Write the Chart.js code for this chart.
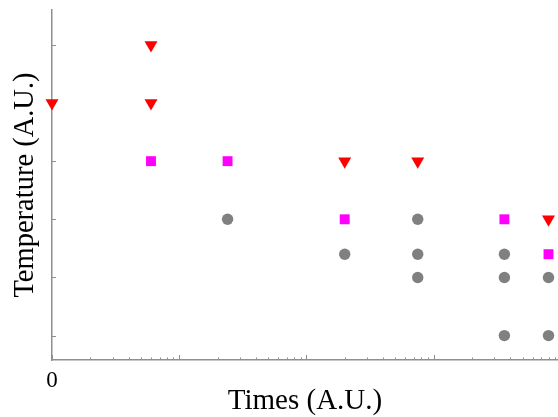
<!DOCTYPE html>
<html lang="en">
<head>
  <meta charset="UTF-8">
  <title>Temperature vs Times</title>
  <script src="https://cdn.jsdelivr.net/npm/chart.js"></script>
  <style>
    html, body { margin: 0; padding: 0; background: #fff; overflow: hidden; }
    canvas { display: block; }
  </style>
</head>
<body>

<canvas id="myChart" width="558" height="417"></canvas>

<script>
  // 読み取った値 (x は対数軸)
  const triangleX = [1, 6, 6, 200, 750, 8000];
  const triangleY = [5, 6, 5, 4, 4, 3];

  const squareX = [6, 24, 200, 3600, 8000];
  const squareY = [4, 4, 3, 3, 2.4];

  const circleX = [24, 200, 750, 750, 750, 3600, 3600, 3600, 8000, 8000];
  const circleY = [3, 2.4, 3, 2.4, 2, 2.4, 2, 1, 2, 1];

  const xLabels = ['0'];   // 最初の目盛りだけラベルあり

  const axisColor = '#8f8f8f';
  const serif = "'Liberation Serif', 'Times New Roman', serif";

  function toPoints(xs, ys) {
    return xs.map((x, i) => ({x: x, y: ys[i]}));
  }

  // 内向きの目盛り線
  const tickMarks = {
    id: 'tickMarks',
    beforeDatasetsDraw(chart) {
      const {ctx, chartArea, scales: {x, y}} = chart;
      ctx.save();
      ctx.strokeStyle = axisColor;
      ctx.lineWidth = 1;
      ctx.beginPath();
      x.ticks.forEach(t => {
        const exp = Math.floor(Math.log10(t.value) + 1e-9);
        const sig = t.value / Math.pow(10, exp);
        if (Math.abs(sig - Math.round(sig)) > 1e-6) return;
        const px = Math.round(x.getPixelForValue(t.value)) + 0.5;
        const len = Math.round(sig) === 1 ? 5 : 2.5;
        ctx.moveTo(px, chartArea.bottom);
        ctx.lineTo(px, chartArea.bottom - len);
      });
      y.ticks.forEach(t => {
        const py = Math.round(y.getPixelForValue(t.value)) + 0.5;
        ctx.moveTo(chartArea.left, py);
        ctx.lineTo(chartArea.left + 4, py);
      });
      ctx.stroke();
      ctx.restore();
    }
  };

  const ctx = document.getElementById('myChart').getContext('2d');
  new Chart(ctx, {
    type: 'scatter',
    data: {
      datasets: [
        {
          data: toPoints(triangleX, triangleY),
          pointStyle: 'triangle',
          rotation: 180,
          pointRadius: 7.5,
          backgroundColor: '#ff0000',
          borderWidth: 0,
          clip: false
        },
        {
          data: toPoints(squareX, squareY),
          pointStyle: 'rect',
          pointRadius: 7,
          backgroundColor: '#ff00ff',
          borderWidth: 0,
          clip: false
        },
        {
          data: toPoints(circleX, circleY),
          pointStyle: 'circle',
          pointRadius: 5.7,
          backgroundColor: '#808080',
          borderWidth: 0,
          clip: false
        }
      ]
    },
    plugins: [tickMarks],
    options: {
      responsive: false,
      animation: false,
      events: [],
      layout: {
        autoPadding: false,
        padding: { top: 10, right: 0, left: 0, bottom: 0 }
      },
      plugins: {
        legend: { display: false },
        tooltip: { enabled: false }
      },
      scales: {
        x: {
          type: 'logarithmic',
          position: 'bottom',
          min: 1,
          max: 9500,
          grid: { display: false, drawTicks: false },
          border: { display: true, color: axisColor, width: 1.5 },
          ticks: {
            autoSkip: false,
            maxRotation: 0,
            padding: 0,
            color: '#000',
            font: { family: serif, size: 23, lineHeight: 1.83 },
            callback: (value, index) => xLabels[index] || ''
          },
          title: {
            display: true,
            text: 'Times (A.U.)',
            color: '#000',
            font: { family: serif, size: 29, lineHeight: 1 },
            padding: { top: 0, bottom: 1.5 }
          },
          afterFit: (s) => { s.height = 57; }
        },
        y: {
          type: 'linear',
          min: 0.58,
          max: 6.6,
          grid: { display: false, drawTicks: false },
          border: { display: true, color: axisColor, width: 1.5 },
          ticks: { display: false, stepSize: 1, includeBounds: false },
          title: {
            display: true,
            text: 'Temperature (A.U.)',
            color: '#000',
            font: { family: serif, size: 28.5, lineHeight: 1.2 },
            padding: { top: 8, bottom: 0 }
          },
          afterFit: (s) => { s.width = 52; }
        }
      }
    }
  });
</script>

</body>
</html>
